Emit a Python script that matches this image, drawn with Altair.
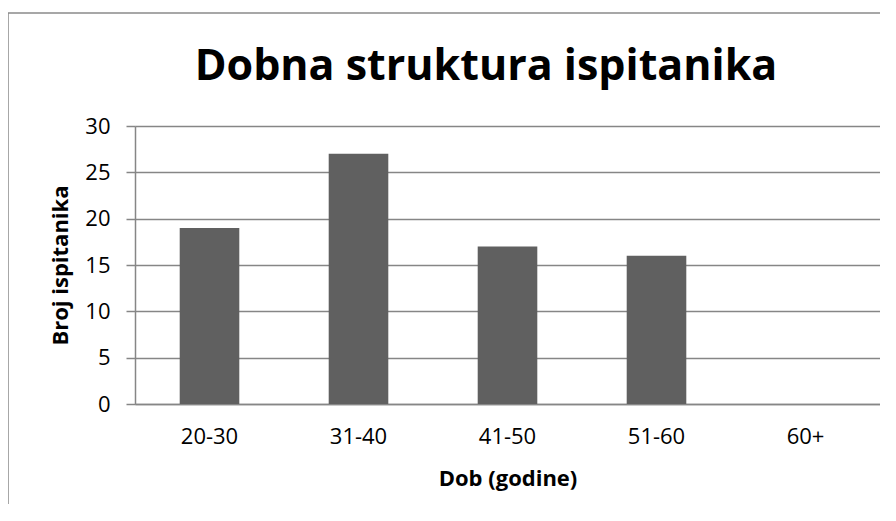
import altair as alt
import pandas as pd

# --- data ---
title_text = "Dobna struktura ispitanika"
categories = ["20-30", "31-40", "41-50", "51-60", "60+"]
counts = [19, 27, 17, 16, 0]
y_ticks = [0, 5, 10, 15, 20, 25, 30]

df = pd.DataFrame({"dob": categories, "broj": counts})

FONT = "Open Sans"
GRID = "#868686"

bars = alt.Chart(df).mark_bar(color="#606060").encode(
    x=alt.X(
        "dob:N",
        sort=categories,
        title="Dob (godine)",
        scale=alt.Scale(paddingInner=0.6, paddingOuter=0.3),
        axis=alt.Axis(
            labelAngle=0, ticks=False, grid=False,
            domainColor=GRID, domainWidth=1.5,
            labelFont=FONT, labelFontSize=22, labelColor="black", labelPadding=22,
            titleFont=FONT, titleFontSize=22, titleFontWeight="bold",
            titleColor="black", titlePadding=21,
        ),
    ),
    y=alt.Y(
        "broj:Q",
        title="Broj ispitanika",
        scale=alt.Scale(domain=[0, 30]),
        axis=alt.Axis(
            values=y_ticks, tickSize=9, tickColor=GRID, tickWidth=1.5,
            domainColor=GRID, domainWidth=1.5,
            grid=True, gridColor=GRID, gridWidth=1.5,
            labelFont=FONT, labelFontSize=22, labelColor="black", labelPadding=16,
            titleFont=FONT, titleFontSize=22, titleFontWeight="bold",
            titleColor="black", titlePadding=12,
        ),
    ),
)

one = pd.DataFrame({"k": [0]})

# outer chart frame (only its top and left edges are inside the picture)
frame_top = alt.Chart(one).mark_rule(color="#8a8a8a", strokeWidth=1.5).encode(
    x=alt.value(-127), x2=alt.value(752), y=alt.value(-113),
)
frame_left = alt.Chart(one).mark_rule(color="#8a8a8a", strokeWidth=1.5).encode(
    x=alt.value(-127), y=alt.value(-113), y2=alt.value(380),
)

title = alt.Chart(one).mark_text(
    font=FONT, fontSize=43, fontWeight="bold", color="black",
    align="center", baseline="alphabetic",
).encode(
    x=alt.value(351), y=alt.value(-46), text=alt.value(title_text),
)

chart = alt.layer(frame_top, frame_left, bars, title).properties(
    width=745,
    height=278,
    padding={"left": 127, "top": 118, "right": 0, "bottom": 100},
    autosize=alt.AutoSizeParams(type="none"),
).configure_view(stroke=None).configure(background="white")

chart.save("out.html", embed_options={"renderer": "svg", "actions": False})
